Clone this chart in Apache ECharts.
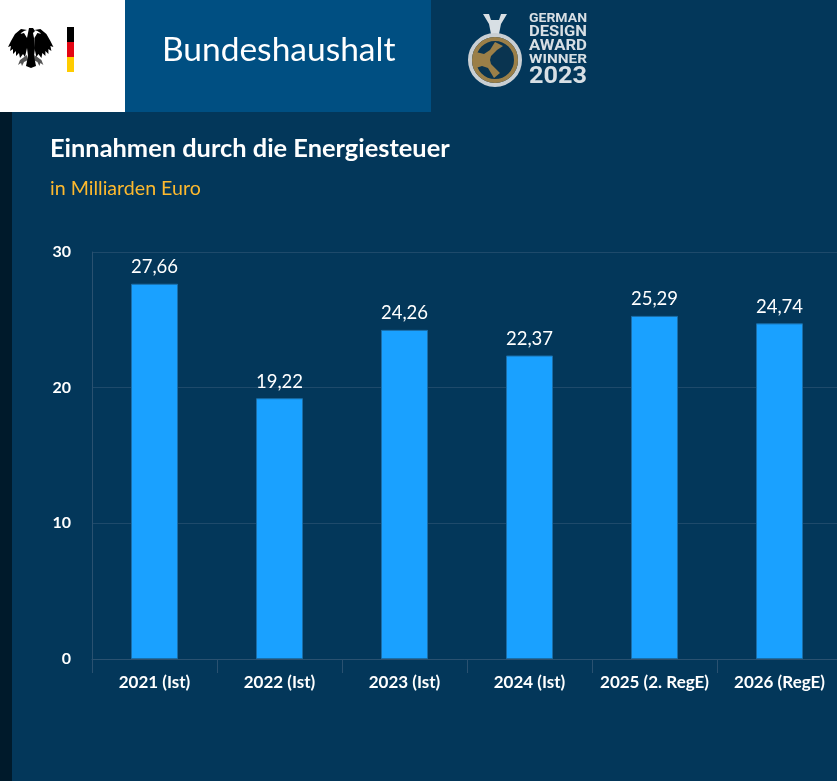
<!DOCTYPE html>
<html><head><meta charset="utf-8">
<style>html,body{margin:0;padding:0;background:#03375a;overflow:hidden}#c{width:837px;height:781px}</style>
<script src="https://cdn.jsdelivr.net/npm/echarts@6/dist/echarts.min.js"></script>
</head><body><div id="c"></div>
<script>
const categories = ['2021 (Ist)','2022 (Ist)','2023 (Ist)','2024 (Ist)','2025 (2. RegE)','2026 (RegE)'];
const values = [27.66,19.22,24.26,22.37,25.29,24.74];
const yTicks = [0,10,20,30];
const FONT = 'Lato,"Noto Sans",sans-serif';
const chart = echarts.init(document.getElementById('c'),null,{renderer:'canvas'});
const mirror = pts => pts.map(p => [61.4 - p[0], p[1]]);
const eagleBody = [[29,28],[33,28],[35,31],[33,33],[34,38],[35,48],[34,56],[36,66],[31,68],[26,66],[28,56],[27,48],[27,38],[28,33]];
const eagleWing = [[27,30],[21,29],[15,34],[11,41],[8,47],[11,46],[10,51],[13,49],[13,54],[16,51],[16,56],[19,53],[20,58],[23,54],[25,57],[27,48],[27,38],[24,33],[20,34],[18,39],[21,33],[24,31]];
const eagleLeg = [[27,55],[20,60],[18,65],[21,63],[22,66],[24,62],[28,60]];
const poly = (points, fill) => ({type:'polygon',shape:{points},style:{fill},silent:true});
const label = (x, y, text, font, fill) => ({type:'text',style:{x,y,text,fill,font:font+' '+FONT,textVerticalAlign:'middle'},silent:true});
const mctx = document.createElement('canvas').getContext('2d');
const fit = (x, y, width, text, px) => {
  const font = 'bold '+px+'px Roboto,sans-serif';
  mctx.font = font;
  return {type:'text',x,y,scaleX:width/mctx.measureText(text).width,style:{x:0,y:0,text,fill:'#d8dfe4',font,textVerticalAlign:'middle'},silent:true};
};
chart.setOption({
  animation:false,
  backgroundColor:'#03375a',
  grid:{left:92,top:252,width:750,height:407,containLabel:false,outerBoundsMode:'none'},
  xAxis:{type:'category',data:categories,
    axisLine:{lineStyle:{color:'#2a5170',width:1}},
    axisTick:{show:true,length:14,alignWithLabel:false,lineStyle:{color:'#2a5170'}},
    axisLabel:{color:'#ffffff',fontFamily:FONT,fontSize:17,fontWeight:'bold',margin:15,interval:0}},
  yAxis:{type:'value',min:0,max:30,interval:10,
    axisLine:{show:true,lineStyle:{color:'#2a5170'}},
    axisTick:{show:false},
    splitLine:{lineStyle:{color:'#1e4a6b',width:1}},
    axisLabel:{color:'#ffffff',fontFamily:FONT,fontSize:16,fontWeight:'bold',margin:21,padding:[2,0,0,0],
      formatter:v=>yTicks.includes(v)?String(v):''}},
  series:[{type:'bar',data:values,barWidth:47,
    itemStyle:{color:'#1aa1ff',borderColor:'#1b6ea8',borderWidth:1},
    label:{show:true,position:'top',distance:7,color:'#ffffff',fontFamily:FONT,fontSize:18.5,
      formatter:p=>p.value.toFixed(2).replace('.',',')}}],
  graphic:[
    {type:'rect',shape:{x:0,y:112,width:12,height:669},style:{fill:'#001a2b'},silent:true},
    {type:'rect',shape:{x:0,y:0,width:125,height:112},style:{fill:'#ffffff'},silent:true},
    {type:'rect',shape:{x:125,y:0,width:306,height:112},style:{fill:'#004f82'},silent:true},
    poly(eagleLeg,'#555555'),poly(mirror(eagleLeg),'#555555'),
    poly(eagleWing,'#000000'),poly(mirror(eagleWing),'#000000'),poly(eagleBody,'#000000'),
    {type:'rect',shape:{x:67,y:27,width:7,height:15},style:{fill:'#000000'},silent:true},
    {type:'rect',shape:{x:67,y:42,width:7,height:15},style:{fill:'#e30613'},silent:true},
    {type:'rect',shape:{x:67,y:57,width:7,height:15},style:{fill:'#ffcc00'},silent:true},
    label(162,50,'Bundeshaushalt','33.5px','#ffffff'),
    label(50,149,'Einnahmen durch die Energiesteuer','bold 25.4px','#ffffff'),
    label(50,189,'in Milliarden Euro','19.6px','#fdb92e'),
    poly([[483,14],[489,14],[491,20],[499,20],[501,14],[507,14],[501,24],[499,34],[491,34],[489,24]],'#d8dfe4'),
    {type:'circle',shape:{cx:495,cy:60,r:25},style:{fill:'#0a3450',stroke:'#c9cfd3',lineWidth:4},silent:true},
    {type:'circle',shape:{cx:495,cy:60,r:21},style:{fill:'#0a3450',stroke:'#9b7f48',lineWidth:4},silent:true},
    poly([[476,52],[484,54],[490,50],[495,42],[503,46],[497,50],[491,56],[490,60],[491,64],[500,73],[494,78],[488,68],[482,66],[476,68]],'#9b7f48'),
    fit(529,19,58,'GERMAN',12.5),
    fit(529,32.5,58,'DESIGN',15),
    fit(529,46,58,'AWARD',15.5),
    fit(529,60,58,'WINNER',13),
    fit(529,77,58,'2023',23)
  ]
});
</script></body></html>
